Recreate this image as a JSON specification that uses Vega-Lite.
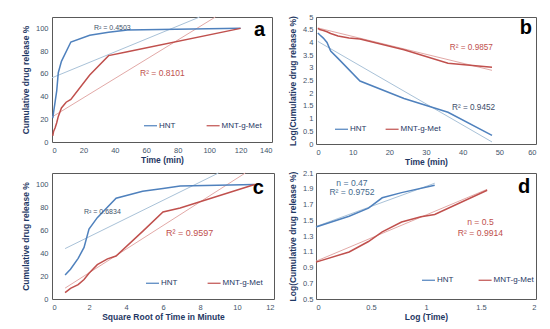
{
  "$schema": "https://vega.github.io/schema/vega-lite/v6.json",
  "background": "white",
  "padding": {"left": 20, "top": 12, "right": 5, "bottom": 2},
  "config": {
    "font": "Liberation Sans",
    "view": {"stroke": "#595959", "strokeWidth": 1},
    "axis": {"domain": false, "ticks": false, "grid": false, "labelFont": "Liberation Sans", "labelFontSize": 7.5, "labelColor": "#44546a", "labelPadding": 4, "titleFont": "Liberation Sans", "titleFontSize": 8.5, "titleFontWeight": "bold", "titleColor": "#1f3864"},
    "axisX": {"titlePadding": 2},
    "axisY": {"titlePadding": 5},
    "legend": {"symbolType": "stroke", "symbolSize": 169, "symbolStrokeWidth": 1.2, "labelFont": "Liberation Sans", "labelFontSize": 8, "labelColor": "#1f3864", "labelOffset": 1, "padding": 0}
  },
  "columns": 2,
  "spacing": {"row": 29, "column": 42},
  "bounds": "flush",
  "resolve": {"scale": {"color": "independent"}, "legend": {"color": "independent"}},
  "datasets": {
    "rows": [
      {"panel": "a", "kind": "line", "series": "HNT", "x": 0.5, "y": 21},
      {"panel": "a", "kind": "line", "series": "HNT", "x": 1, "y": 26},
      {"panel": "a", "kind": "line", "series": "HNT", "x": 2, "y": 35.5},
      {"panel": "a", "kind": "line", "series": "HNT", "x": 3, "y": 45},
      {"panel": "a", "kind": "line", "series": "HNT", "x": 4, "y": 61},
      {"panel": "a", "kind": "line", "series": "HNT", "x": 6, "y": 71},
      {"panel": "a", "kind": "line", "series": "HNT", "x": 12, "y": 88},
      {"panel": "a", "kind": "line", "series": "HNT", "x": 24, "y": 94},
      {"panel": "a", "kind": "line", "series": "HNT", "x": 36, "y": 96.5},
      {"panel": "a", "kind": "line", "series": "HNT", "x": 48, "y": 98.6},
      {"panel": "a", "kind": "line", "series": "HNT", "x": 120, "y": 100},
      {"panel": "a", "kind": "line", "series": "MNT-g-Met", "x": 0.5, "y": 5.5},
      {"panel": "a", "kind": "line", "series": "MNT-g-Met", "x": 1, "y": 9.3},
      {"panel": "a", "kind": "line", "series": "MNT-g-Met", "x": 2, "y": 12.5},
      {"panel": "a", "kind": "line", "series": "MNT-g-Met", "x": 3, "y": 17},
      {"panel": "a", "kind": "line", "series": "MNT-g-Met", "x": 4, "y": 22.5},
      {"panel": "a", "kind": "line", "series": "MNT-g-Met", "x": 6, "y": 30},
      {"panel": "a", "kind": "line", "series": "MNT-g-Met", "x": 9, "y": 35},
      {"panel": "a", "kind": "line", "series": "MNT-g-Met", "x": 12, "y": 37.5},
      {"panel": "a", "kind": "line", "series": "MNT-g-Met", "x": 24, "y": 59},
      {"panel": "a", "kind": "line", "series": "MNT-g-Met", "x": 36, "y": 76},
      {"panel": "a", "kind": "line", "series": "MNT-g-Met", "x": 48, "y": 79.5},
      {"panel": "a", "kind": "line", "series": "MNT-g-Met", "x": 120, "y": 100},
      {"panel": "a", "kind": "trend", "series": "HNT", "x": 0, "y": 56.5},
      {"panel": "a", "kind": "trend", "series": "HNT", "x": 94, "y": 110},
      {"panel": "a", "kind": "trend", "series": "MNT-g-Met", "x": 0, "y": 22},
      {"panel": "a", "kind": "trend", "series": "MNT-g-Met", "x": 104, "y": 110},
      {"panel": "a", "kind": "note", "series": "HNT", "x": 26.7, "y": 100, "label": "R² = 0.4503"},
      {"panel": "a", "kind": "note", "series": "MNT-g-Met", "x": 56, "y": 61, "label": "R² = 0.8101"},
      {"panel": "a", "kind": "note", "series": "letter", "x": 128.5, "y": 99, "label": "a"},

      {"panel": "b", "kind": "line", "series": "HNT", "x": 0.5, "y": 4.37},
      {"panel": "b", "kind": "line", "series": "HNT", "x": 1, "y": 4.30},
      {"panel": "b", "kind": "line", "series": "HNT", "x": 2, "y": 4.17},
      {"panel": "b", "kind": "line", "series": "HNT", "x": 3, "y": 4.0},
      {"panel": "b", "kind": "line", "series": "HNT", "x": 4, "y": 3.66},
      {"panel": "b", "kind": "line", "series": "HNT", "x": 6, "y": 3.37},
      {"panel": "b", "kind": "line", "series": "HNT", "x": 12, "y": 2.48},
      {"panel": "b", "kind": "line", "series": "HNT", "x": 24, "y": 1.79},
      {"panel": "b", "kind": "line", "series": "HNT", "x": 36, "y": 1.25},
      {"panel": "b", "kind": "line", "series": "HNT", "x": 48, "y": 0.34},
      {"panel": "b", "kind": "line", "series": "MNT-g-Met", "x": 0.5, "y": 4.55},
      {"panel": "b", "kind": "line", "series": "MNT-g-Met", "x": 1, "y": 4.51},
      {"panel": "b", "kind": "line", "series": "MNT-g-Met", "x": 2, "y": 4.47},
      {"panel": "b", "kind": "line", "series": "MNT-g-Met", "x": 3, "y": 4.42},
      {"panel": "b", "kind": "line", "series": "MNT-g-Met", "x": 4, "y": 4.35},
      {"panel": "b", "kind": "line", "series": "MNT-g-Met", "x": 6, "y": 4.25},
      {"panel": "b", "kind": "line", "series": "MNT-g-Met", "x": 9, "y": 4.17},
      {"panel": "b", "kind": "line", "series": "MNT-g-Met", "x": 12, "y": 4.13},
      {"panel": "b", "kind": "line", "series": "MNT-g-Met", "x": 24, "y": 3.71},
      {"panel": "b", "kind": "line", "series": "MNT-g-Met", "x": 36, "y": 3.18},
      {"panel": "b", "kind": "line", "series": "MNT-g-Met", "x": 48, "y": 3.02},
      {"panel": "b", "kind": "trend", "series": "HNT", "x": 0.5, "y": 4.04},
      {"panel": "b", "kind": "trend", "series": "HNT", "x": 48, "y": 0.08},
      {"panel": "b", "kind": "trend", "series": "MNT-g-Met", "x": 0.5, "y": 4.57},
      {"panel": "b", "kind": "trend", "series": "MNT-g-Met", "x": 48, "y": 2.9},
      {"panel": "b", "kind": "note", "series": "MNT-g-Met", "x": 36.5, "y": 3.78, "label": "R² = 0.9857"},
      {"panel": "b", "kind": "note", "series": "HNT", "x": 37.1, "y": 1.42, "label": "R² = 0.9452"},
      {"panel": "b", "kind": "note", "series": "letter", "x": 55.6, "y": 4.57, "label": "b"},

      {"panel": "c", "kind": "line", "series": "HNT", "x": 0.707, "y": 21},
      {"panel": "c", "kind": "line", "series": "HNT", "x": 1, "y": 26},
      {"panel": "c", "kind": "line", "series": "HNT", "x": 1.414, "y": 35.5},
      {"panel": "c", "kind": "line", "series": "HNT", "x": 1.732, "y": 45},
      {"panel": "c", "kind": "line", "series": "HNT", "x": 2, "y": 61},
      {"panel": "c", "kind": "line", "series": "HNT", "x": 2.449, "y": 71},
      {"panel": "c", "kind": "line", "series": "HNT", "x": 3.464, "y": 88},
      {"panel": "c", "kind": "line", "series": "HNT", "x": 4.899, "y": 94},
      {"panel": "c", "kind": "line", "series": "HNT", "x": 6, "y": 96.5},
      {"panel": "c", "kind": "line", "series": "HNT", "x": 6.928, "y": 98.6},
      {"panel": "c", "kind": "line", "series": "HNT", "x": 10.954, "y": 100},
      {"panel": "c", "kind": "line", "series": "MNT-g-Met", "x": 0.707, "y": 5.5},
      {"panel": "c", "kind": "line", "series": "MNT-g-Met", "x": 1, "y": 9.3},
      {"panel": "c", "kind": "line", "series": "MNT-g-Met", "x": 1.414, "y": 12.5},
      {"panel": "c", "kind": "line", "series": "MNT-g-Met", "x": 1.732, "y": 17},
      {"panel": "c", "kind": "line", "series": "MNT-g-Met", "x": 2, "y": 22.5},
      {"panel": "c", "kind": "line", "series": "MNT-g-Met", "x": 2.449, "y": 30},
      {"panel": "c", "kind": "line", "series": "MNT-g-Met", "x": 3, "y": 35},
      {"panel": "c", "kind": "line", "series": "MNT-g-Met", "x": 3.464, "y": 37.5},
      {"panel": "c", "kind": "line", "series": "MNT-g-Met", "x": 4.899, "y": 59},
      {"panel": "c", "kind": "line", "series": "MNT-g-Met", "x": 6, "y": 76},
      {"panel": "c", "kind": "line", "series": "MNT-g-Met", "x": 6.928, "y": 79.5},
      {"panel": "c", "kind": "line", "series": "MNT-g-Met", "x": 10.954, "y": 100},
      {"panel": "c", "kind": "trend", "series": "HNT", "x": 0.707, "y": 44},
      {"panel": "c", "kind": "trend", "series": "HNT", "x": 9.0, "y": 110},
      {"panel": "c", "kind": "trend", "series": "MNT-g-Met", "x": 0.707, "y": 9.5},
      {"panel": "c", "kind": "trend", "series": "MNT-g-Met", "x": 10.45, "y": 110},
      {"panel": "c", "kind": "note", "series": "HNT", "x": 1.73, "y": 76, "label": "R² = 0.6834"},
      {"panel": "c", "kind": "note", "series": "MNT-g-Met", "x": 6.16, "y": 58, "label": "R² = 0.9597"},
      {"panel": "c", "kind": "note", "series": "letter", "x": 10.85, "y": 97, "label": "c"},

      {"panel": "d", "kind": "line", "series": "HNT", "x": 0, "y": 1.415},
      {"panel": "d", "kind": "line", "series": "HNT", "x": 0.301, "y": 1.55},
      {"panel": "d", "kind": "line", "series": "HNT", "x": 0.477, "y": 1.653},
      {"panel": "d", "kind": "line", "series": "HNT", "x": 0.602, "y": 1.785},
      {"panel": "d", "kind": "line", "series": "HNT", "x": 0.778, "y": 1.851},
      {"panel": "d", "kind": "line", "series": "HNT", "x": 1.079, "y": 1.944},
      {"panel": "d", "kind": "line", "series": "MNT-g-Met", "x": 0, "y": 0.968},
      {"panel": "d", "kind": "line", "series": "MNT-g-Met", "x": 0.301, "y": 1.097},
      {"panel": "d", "kind": "line", "series": "MNT-g-Met", "x": 0.477, "y": 1.23},
      {"panel": "d", "kind": "line", "series": "MNT-g-Met", "x": 0.602, "y": 1.352},
      {"panel": "d", "kind": "line", "series": "MNT-g-Met", "x": 0.778, "y": 1.477},
      {"panel": "d", "kind": "line", "series": "MNT-g-Met", "x": 0.954, "y": 1.544},
      {"panel": "d", "kind": "line", "series": "MNT-g-Met", "x": 1.079, "y": 1.574},
      {"panel": "d", "kind": "line", "series": "MNT-g-Met", "x": 1.556, "y": 1.881},
      {"panel": "d", "kind": "trend", "series": "HNT", "x": 0, "y": 1.42},
      {"panel": "d", "kind": "trend", "series": "HNT", "x": 1.079, "y": 1.97},
      {"panel": "d", "kind": "trend", "series": "MNT-g-Met", "x": 0, "y": 0.98},
      {"panel": "d", "kind": "trend", "series": "MNT-g-Met", "x": 1.556, "y": 1.893},
      {"panel": "d", "kind": "note", "series": "HNT", "x": 0.327, "y": 1.969, "label": "n = 0.47"},
      {"panel": "d", "kind": "note", "series": "HNT", "x": 0.327, "y": 1.855, "label": "R² = 0.9752"},
      {"panel": "d", "kind": "note", "series": "MNT-g-Met", "x": 1.495, "y": 1.482, "label": "n = 0.5"},
      {"panel": "d", "kind": "note", "series": "MNT-g-Met", "x": 1.495, "y": 1.342, "label": "R² = 0.9914"},
      {"panel": "d", "kind": "note", "series": "letter", "x": 1.836, "y": 1.926, "label": "d"}
    ]
  },
  "concat": [
    {
      "width": 220, "height": 125,
      "data": {"name": "rows"},
      "transform": [{"filter": "datum.panel === 'a'"}],
      "encoding": {
        "x": {"field": "x", "type": "quantitative", "scale": {"domain": [0, 140], "nice": false, "zero": false}, "axis": {"title": "Time (min)", "values": [0, 20, 40, 60, 80, 100, 120, 140]}},
        "y": {"field": "y", "type": "quantitative", "scale": {"domain": [0, 110], "nice": false}, "axis": {"title": "Cumulative drug release %", "values": [0, 20, 40, 60, 80, 100]}}
      },
      "layer": [
        {"transform": [{"filter": "datum.kind === 'trend' && datum.series === 'HNT'"}], "mark": {"type": "line", "strokeWidth": 1, "color": "#a9c2d8"}, "encoding": {}},
        {"transform": [{"filter": "datum.kind === 'trend' && datum.series === 'MNT-g-Met'"}], "mark": {"type": "line", "strokeWidth": 1, "color": "#e2a9a7"}, "encoding": {}},
        {"transform": [{"filter": "datum.kind === 'line'"}], "mark": {"type": "line", "strokeWidth": 1.5}, "encoding": {"color": {"field": "series", "type": "nominal", "scale": {"domain": ["HNT", "MNT-g-Met"], "range": ["#4f81bd", "#c0504d"]}, "legend": {"title": null, "orient": "none", "legendX": 91, "legendY": 101, "direction": "horizontal", "columnPadding": 27.6, "symbolStrokeWidth": 1.2}}}},
        {"transform": [{"filter": "datum.kind === 'note' && datum.series === 'HNT'"}], "mark": {"type": "text", "align": "left", "baseline": "middle", "fontSize": 7, "color": "#44546a"}, "encoding": {"text": {"field": "label"}}},
        {"transform": [{"filter": "datum.kind === 'note' && datum.series === 'MNT-g-Met'"}], "mark": {"type": "text", "align": "left", "baseline": "middle", "fontSize": 8.5, "color": "#c0504d"}, "encoding": {"text": {"field": "label"}}},
        {"transform": [{"filter": "datum.kind === 'note' && datum.series === 'letter'"}], "mark": {"type": "text", "align": "left", "baseline": "middle", "fontSize": 20, "fontWeight": "bold", "color": "#000000"}, "encoding": {"text": {"field": "label"}}}
      ]
    },
    {
      "width": 220, "height": 127,
      "data": {"name": "rows"},
      "transform": [{"filter": "datum.panel === 'b'"}],
      "encoding": {
        "x": {"field": "x", "type": "quantitative", "scale": {"domain": [0, 60], "nice": false, "zero": false}, "axis": {"title": "Time (min)", "values": [0, 10, 20, 30, 40, 50, 60]}},
        "y": {"field": "y", "type": "quantitative", "scale": {"domain": [0, 5], "nice": false}, "axis": {"title": "Log(Cumulative drug release %)", "values": [0, 0.5, 1, 1.5, 2, 2.5, 3, 3.5, 4, 4.5, 5], "format": "~g", "labelPadding": 3}}
      },
      "layer": [
        {"transform": [{"filter": "datum.kind === 'trend' && datum.series === 'HNT'"}], "mark": {"type": "line", "strokeWidth": 1, "color": "#a9c2d8"}, "encoding": {}},
        {"transform": [{"filter": "datum.kind === 'trend' && datum.series === 'MNT-g-Met'"}], "mark": {"type": "line", "strokeWidth": 1, "color": "#e2a9a7"}, "encoding": {}},
        {"transform": [{"filter": "datum.kind === 'line'"}], "mark": {"type": "line", "strokeWidth": 1.5}, "encoding": {"color": {"field": "series", "type": "nominal", "scale": {"domain": ["HNT", "MNT-g-Met"], "range": ["#4f81bd", "#c0504d"]}, "legend": {"title": null, "orient": "none", "legendX": 18, "legendY": 104.5, "direction": "horizontal", "columnPadding": 15.6, "symbolStrokeWidth": 1.2}}}},
        {"transform": [{"filter": "datum.kind === 'note' && datum.series === 'HNT'"}], "mark": {"type": "text", "align": "left", "baseline": "middle", "fontSize": 8.2, "color": "#3d4d69"}, "encoding": {"text": {"field": "label"}}},
        {"transform": [{"filter": "datum.kind === 'note' && datum.series === 'MNT-g-Met'"}], "mark": {"type": "text", "align": "left", "baseline": "middle", "fontSize": 8.2, "color": "#c0504d"}, "encoding": {"text": {"field": "label"}}},
        {"transform": [{"filter": "datum.kind === 'note' && datum.series === 'letter'"}], "mark": {"type": "text", "align": "left", "baseline": "middle", "fontSize": 20, "fontWeight": "bold", "color": "#000000"}, "encoding": {"text": {"field": "label"}}}
      ]
    },
    {
      "width": 222, "height": 126,
      "data": {"name": "rows"},
      "transform": [{"filter": "datum.panel === 'c'"}],
      "encoding": {
        "x": {"field": "x", "type": "quantitative", "scale": {"domain": [0, 12], "nice": false, "zero": false}, "axis": {"title": "Square Root of Time in Minute", "values": [0, 2, 4, 6, 8, 10, 12]}},
        "y": {"field": "y", "type": "quantitative", "scale": {"domain": [0, 110], "nice": false}, "axis": {"title": "Cumulative drug release %", "values": [0, 20, 40, 60, 80, 100]}}
      },
      "layer": [
        {"transform": [{"filter": "datum.kind === 'trend' && datum.series === 'HNT'"}], "mark": {"type": "line", "strokeWidth": 1, "color": "#a9c2d8"}, "encoding": {}},
        {"transform": [{"filter": "datum.kind === 'trend' && datum.series === 'MNT-g-Met'"}], "mark": {"type": "line", "strokeWidth": 1, "color": "#e2a9a7"}, "encoding": {}},
        {"transform": [{"filter": "datum.kind === 'line'"}], "mark": {"type": "line", "strokeWidth": 1.5}, "encoding": {"color": {"field": "series", "type": "nominal", "scale": {"domain": ["HNT", "MNT-g-Met"], "range": ["#4f81bd", "#c0504d"]}, "legend": {"title": null, "orient": "none", "legendX": 93, "legendY": 102.5, "direction": "horizontal", "columnPadding": 26.6, "symbolStrokeWidth": 1.2}}}},
        {"transform": [{"filter": "datum.kind === 'note' && datum.series === 'HNT'"}], "mark": {"type": "text", "align": "left", "baseline": "middle", "fontSize": 7, "color": "#44546a"}, "encoding": {"text": {"field": "label"}}},
        {"transform": [{"filter": "datum.kind === 'note' && datum.series === 'MNT-g-Met'"}], "mark": {"type": "text", "align": "left", "baseline": "middle", "fontSize": 9, "color": "#c0504d"}, "encoding": {"text": {"field": "label"}}},
        {"transform": [{"filter": "datum.kind === 'note' && datum.series === 'letter'"}], "mark": {"type": "text", "align": "left", "baseline": "middle", "fontSize": 20, "fontWeight": "bold", "color": "#000000"}, "encoding": {"text": {"field": "label"}}}
      ]
    },
    {
      "width": 220, "height": 126,
      "data": {"name": "rows"},
      "transform": [{"filter": "datum.panel === 'd'"}],
      "encoding": {
        "x": {"field": "x", "type": "quantitative", "scale": {"domain": [0, 2], "nice": false, "zero": false}, "axis": {"title": "Log (Time)", "values": [0, 0.5, 1, 1.5, 2], "format": "~g"}},
        "y": {"field": "y", "type": "quantitative", "scale": {"domain": [0.5, 2.1], "nice": false, "zero": false}, "axis": {"title": "Log(Cumulative drug release %)", "values": [0.5, 0.7, 0.9, 1.1, 1.3, 1.5, 1.7, 1.9, 2.1], "format": "~g", "labelPadding": 3}}
      },
      "layer": [
        {"transform": [{"filter": "datum.kind === 'trend' && datum.series === 'HNT'"}], "mark": {"type": "line", "strokeWidth": 1, "color": "#a9c2d8"}, "encoding": {}},
        {"transform": [{"filter": "datum.kind === 'trend' && datum.series === 'MNT-g-Met'"}], "mark": {"type": "line", "strokeWidth": 1, "color": "#e2a9a7"}, "encoding": {}},
        {"transform": [{"filter": "datum.kind === 'line'"}], "mark": {"type": "line", "strokeWidth": 1.5}, "encoding": {"color": {"field": "series", "type": "nominal", "scale": {"domain": ["HNT", "MNT-g-Met"], "range": ["#4f81bd", "#c0504d"]}, "legend": {"title": null, "orient": "none", "legendX": 105, "legendY": 99.5, "direction": "horizontal", "columnPadding": 21.6, "symbolStrokeWidth": 1.2}}}},
        {"transform": [{"filter": "datum.kind === 'note' && datum.series === 'HNT'"}], "mark": {"type": "text", "align": "center", "baseline": "middle", "fontSize": 8.6, "color": "#456a8e"}, "encoding": {"text": {"field": "label"}}},
        {"transform": [{"filter": "datum.kind === 'note' && datum.series === 'MNT-g-Met'"}], "mark": {"type": "text", "align": "center", "baseline": "middle", "fontSize": 8.6, "color": "#c0504d"}, "encoding": {"text": {"field": "label"}}},
        {"transform": [{"filter": "datum.kind === 'note' && datum.series === 'letter'"}], "mark": {"type": "text", "align": "left", "baseline": "middle", "fontSize": 20, "fontWeight": "bold", "color": "#000000"}, "encoding": {"text": {"field": "label"}}}
      ]
    }
  ]
}
